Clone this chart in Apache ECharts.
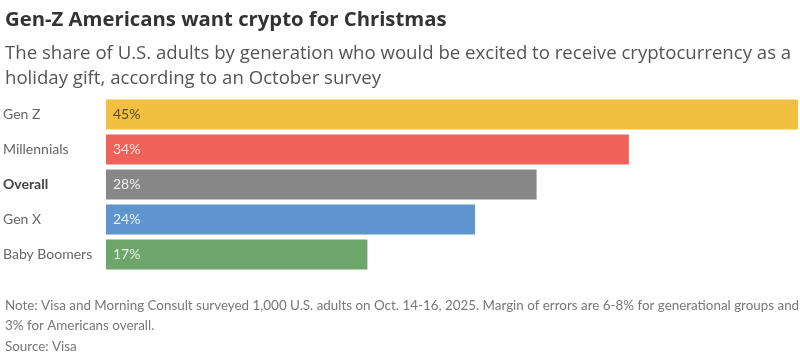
<!DOCTYPE html>
<html>
<head>
<meta charset="utf-8">
<script src="https://cdn.jsdelivr.net/npm/echarts@6/dist/echarts.min.js"></script>
<style>
  html, body { margin: 0; padding: 0; background: #fff; }
  #chart { width: 800px; height: 354px; }
</style>
</head>
<body>
<div id="chart"></div>
<script>
// data
const categories = ["Gen Z", "Millennials", "Overall", "Gen X", "Baby Boomers"]
const shares = [45, 34, 28, 24, 17]
const barColors = ["#f2c040", "#ee6259", "#878787", "#5f95cf", "#6ea56a"]
const labelColors = ["#5a4a1e", "#fde3df", "#eeeeee", "#e3eefa", "#e3f1e0"]

const font = "Lato, 'Noto Sans', sans-serif"
const headFont = "'Open Sans', 'Noto Sans', sans-serif"

let myChart = echarts.init(document.getElementById("chart"))

let option = {
    animation: false,
    title: [{
        text: "Gen-Z Americans want crypto for Christmas",
        left: 0,
        top: 5,
        textStyle: { fontFamily: headFont, fontSize: 20.3, fontWeight: "bold", color: "#333" }
    }, {
        text: "The share of U.S. adults by generation who would be excited to receive cryptocurrency as a\nholiday gift, according to an October survey",
        left: 0,
        top: 36,
        textStyle: { fontFamily: headFont, fontSize: 18.6, fontWeight: "normal", color: "#555", lineHeight: 25 }
    }, {
        text: "Note: Visa and Morning Consult surveyed 1,000 U.S. adults on Oct. 14-16, 2025. Margin of errors are 6-8% for generational groups and\n3% for Americans overall.",
        left: 0,
        top: 291,
        textStyle: { fontFamily: font, fontSize: 13.4, fontWeight: "normal", color: "#777", lineHeight: 20 }
    }, {
        text: "Source: Visa",
        left: 0,
        top: 335,
        textStyle: { fontFamily: font, fontSize: 13.4, fontWeight: "normal", color: "#777" }
    }],
    grid: {
        left: 105,
        right: 2,
        top: 97,
        height: 175
    },
    xAxis: {
        type: "value",
        min: 0,
        max: 45,
        show: false
    },
    yAxis: {
        type: "category",
        inverse: true,
        data: categories,
        axisLine: { show: false },
        axisTick: { show: false },
        axisLabel: {
            align: "left",
            margin: 103,
            fontFamily: font,
            fontSize: 14,
            color: "#666",
            formatter: function (v) {
                return v === "Overall" ? "{b|" + v + "}" : v
            },
            rich: {
                b: { fontFamily: font, fontSize: 14, fontWeight: "bold", color: "#444" }
            }
        }
    },
    series: [{
        type: "bar",
        barWidth: 30,
        data: shares.map((v, i) => ({
            value: v,
            itemStyle: { color: barColors[i] },
            label: { color: labelColors[i] }
        })),
        label: {
            show: true,
            position: "insideLeft",
            offset: [2, 0],
            fontFamily: font,
            fontSize: 14,
            formatter: "{c}%"
        }
    }]
}
myChart.setOption(option)
</script>
</body>
</html>
